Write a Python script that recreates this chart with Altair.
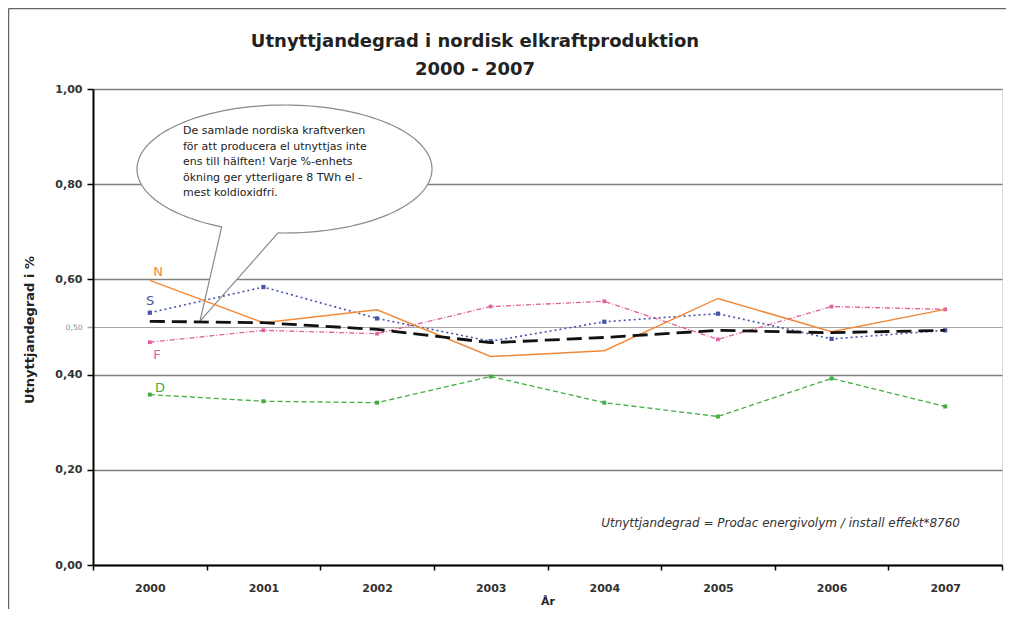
import altair as alt
import pandas as pd
import numpy as np

# ---------------- data ----------------
YEARS = ["2000", "2001", "2002", "2003", "2004", "2005", "2006", "2007"]
NORGE = [0.598, 0.509, 0.536, 0.438, 0.450, 0.560, 0.490, 0.537]
SVERIGE = [0.530, 0.584, 0.518, 0.470, 0.511, 0.528, 0.475, 0.493]
FINLAND = [0.468, 0.493, 0.486, 0.543, 0.554, 0.474, 0.543, 0.537]
DANMARK = [0.358, 0.344, 0.341, 0.396, 0.341, 0.312, 0.392, 0.333]
NORDEN = [0.512, 0.509, 0.495, 0.467, 0.478, 0.493, 0.488, 0.493]
Y_TICKS = [0.0, 0.2, 0.4, 0.5, 0.6, 0.8, 1.0]

TITLE_LINES = ["Utnyttjandegrad i nordisk elkraftproduktion", "2000 - 2007"]
Y_TITLE = "Utnyttjandegrad i  %"
X_TITLE = "År"
BUBBLE_LINES = [
    "De samlade nordiska kraftverken",
    "för att producera el utnyttjas inte",
    "ens till hälften! Varje %-enhets",
    "ökning ger ytterligare 8 TWh el -",
    "mest koldioxidfri.",
]
FORMULA = "Utnyttjandegrad = Prodac energivolym / install effekt*8760"
SERIES_LABELS = ["N", "S", "F", "D"]

FONT = "DejaVu Sans"

rows = []
for key, vals in [("D", DANMARK), ("F", FINLAND), ("S", SVERIGE), ("N", NORGE), ("Norden", NORDEN)]:
    for y, v in zip(YEARS, vals):
        rows.append({"year": y, "series": key, "value": v})
df = pd.DataFrame(rows)

one = pd.DataFrame({"k": [0]})

# ---------------- scales / axes ----------------
x_enc = alt.X(
    "year:N",
    sort=YEARS,
    bandPosition=0.5,
    scale=alt.Scale(type="band", domain=YEARS, paddingInner=0, paddingOuter=0),
    axis=alt.Axis(
        title=X_TITLE, titleFont=FONT, titleFontSize=11, titleFontWeight="bold",
        titleColor="#222", titlePadding=2,
        labelAngle=0, labelFont=FONT, labelFontSize=11, labelFontWeight="bold",
        labelColor="#333", labelPadding=12,
        tickBand="extent", tickSize=5, tickWidth=1.5, tickColor="#000",
        domainColor="#000", domainWidth=2, grid=False,
    ),
)

is_half = "datum.value === 0.5"
y_enc = alt.Y(
    "value:Q",
    scale=alt.Scale(domain=[0, 1], nice=False, zero=True),
    axis=alt.Axis(
        title=None,
        values=Y_TICKS,
        labelExpr="replace(format(datum.value, '.2f'), '.', ',')",
        labelFont=FONT,
        labelFontSize={"condition": {"test": is_half, "value": 7.5}, "value": 11},
        labelFontWeight={"condition": {"test": is_half, "value": "normal"}, "value": "bold"},
        labelColor={"condition": {"test": is_half, "value": "#8a8a8a"}, "value": "#333333"},
        labelPadding=5,
        tickSize=6,
        tickWidth=1.5,
        tickColor={"condition": {"test": is_half, "value": "#a8a8a8"}, "value": "#000000"},
        domainColor="#000", domainWidth=2,
        grid=True,
        gridColor={"condition": {"test": is_half, "value": "#a8a8a8"}, "value": "#7f7f7f"},
        gridWidth={"condition": {"test": is_half, "value": 1}, "value": 1.7},
    ),
)

# ---------------- speech bubble shape ----------------
RX_PX = 147.5
RY = 64 / RX_PX
ts = np.radians(np.linspace(115.2, 452.5, 140))
pts = [(np.cos(t), RY * np.sin(t)) for t in ts]
bubble_path = "M" + " L".join(f"{px:.4f},{py:.4f}" for px, py in pts) + " L-0.573,1.031 Z"

layers = []

# outer frame (left + top)
layers.append(alt.Chart(one).mark_rule(color="#666", strokeWidth=1.5).encode(
    x=alt.value(-84.5), y=alt.value(-80.5), y2=alt.value(530)))
layers.append(alt.Chart(one).mark_rule(color="#666", strokeWidth=1.5).encode(
    x=alt.value(-84.5), x2=alt.value(920), y=alt.value(-80.5)))

# bubble
layers.append(alt.Chart(one).mark_point(
    shape=bubble_path, size=(2 * RX_PX) ** 2, filled=True, fill="white",
    stroke="#8a8a8a", strokeWidth=1.2, opacity=1,
).encode(x=alt.value(191.5), y=alt.value(80)))

layers.append(alt.Chart(one).mark_text(
    text="\n".join(BUBBLE_LINES), lineBreak="\n", lineHeight=15.5,
    align="left", baseline="middle", font=FONT, fontSize=11, color="#222",
).encode(x=alt.value(90), y=alt.value(42)))

base = alt.Chart(df).encode(x=x_enc, y=y_enc)

styles = {
    "D": dict(color="#43ad43", dash=[5, 3], width=1.3, msize=16),
    "F": dict(color="#e0609c", dash=[5, 2, 1, 2], width=1.3, msize=14),
    "S": dict(color="#4b55a8", dash=[2, 3], width=1.6, msize=18),
    "N": dict(color="#f08a3a", dash=None, width=1.5, msize=0),
    "Norden": dict(color="#111111", dash=[15, 7], width=2.8, msize=0),
}
for key in ["D", "F", "S", "N", "Norden"]:
    st = styles[key]
    kw = dict(color=st["color"], strokeWidth=st["width"])
    if st["dash"]:
        kw["strokeDash"] = st["dash"]
    sub = base.transform_filter(alt.datum.series == key)
    layers.append(sub.mark_line(**kw))
    if st["msize"]:
        layers.append(sub.mark_point(shape="square", filled=True, size=st["msize"],
                                     color=st["color"], opacity=1))

# series labels
label_pos = {"N": (65, 183), "S": (57, 212), "F": (64, 266), "D": (67, 299)}
for lab in SERIES_LABELS:
    px, py = label_pos[lab]
    layers.append(alt.Chart(one).mark_text(
        text=lab, font=FONT, fontSize=13, color=styles[lab]["color"],
        align="center", baseline="middle",
    ).encode(x=alt.value(px), y=alt.value(py)))

# title
layers.append(alt.Chart(one).mark_text(
    text=TITLE_LINES[0], font=FONT, fontSize=18, fontWeight="bold", color="#222",
    align="center", baseline="alphabetic",
).encode(x=alt.value(382), y=alt.value(-42)))
layers.append(alt.Chart(one).mark_text(
    text=TITLE_LINES[1], font=FONT, fontSize=18, fontWeight="bold", color="#222",
    align="center", baseline="alphabetic",
).encode(x=alt.value(382), y=alt.value(-14)))

# y title
layers.append(alt.Chart(one).mark_text(
    text=Y_TITLE, font=FONT, fontSize=13, fontWeight="bold", color="#222",
    angle=270, align="center", baseline="middle",
).encode(x=alt.value(-63), y=alt.value(241)))

# formula
layers.append(alt.Chart(one).mark_text(
    text=FORMULA, font=FONT, fontSize=12, fontStyle="italic", color="#333",
    align="right", baseline="middle",
).encode(x=alt.value(867), y=alt.value(434)))

chart = alt.layer(*layers).properties(
    width=909, height=476,
    autosize=alt.AutoSizeParams(type="none"),
    padding={"left": 85, "top": 81, "right": 4, "bottom": 44},
).configure_view(stroke="#7a7a7a", strokeWidth=1.5).configure(background="white")

chart.save("out.html", embed_options={"renderer": "svg", "actions": False})
